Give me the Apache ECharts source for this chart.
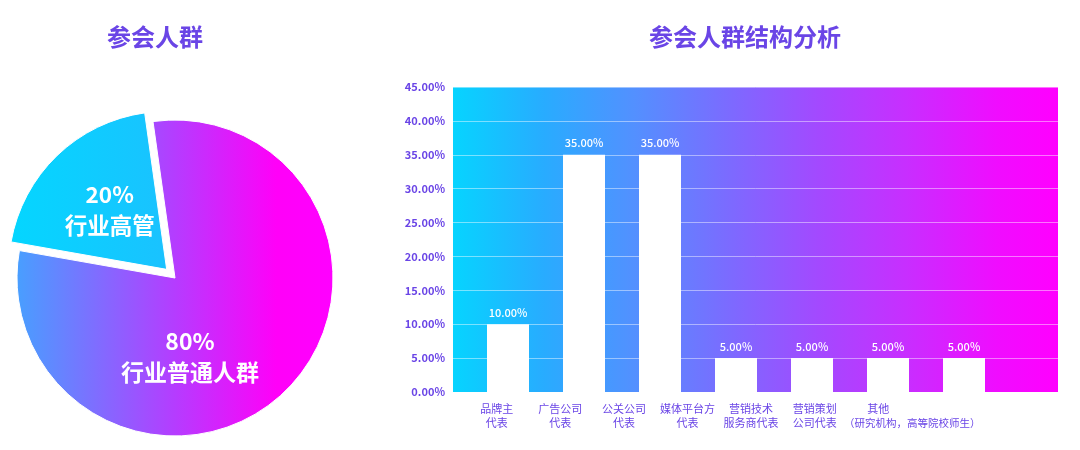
<!DOCTYPE html>
<html><head><meta charset="utf-8">
<script src="https://cdn.jsdelivr.net/npm/echarts@6/dist/echarts.min.js"></script>
<style>html,body{margin:0;padding:0;background:#fff}#c{width:1080px;height:450px}</style>
</head><body><div id="c"></div>
<script>
var pieNames = ['行业普通人群', '行业高管'];
var pieValues = [80, 20];
var pieLabels = ['80%', '20%'];
var barCategories = ['品牌主\n代表', '广告公司\n代表', '公关公司\n代表', '媒体平台方\n代表', '营销技术\n服务商代表', '营销策划\n公司代表', '其他\n（研究机构，高等院校师生）'];
var barValues = [0.10, 0.35, 0.35, 0.05, 0.05, 0.05, 0.05];
var yMin = 0, yMax = 0.45, yStep = 0.05;

var FONT = 'Noto Sans CJK SC';
var PURPLE = '#6a45e6';
var chart = echarts.init(document.getElementById('c'));
var G = echarts.graphic.LinearGradient;
var bgGrad = new G(0, 0, 1, 0, [
  {offset: 0, color: '#06d4ff'}, {offset: 0.15, color: '#28acff'},
  {offset: 0.3, color: '#5390ff'}, {offset: 0.45, color: '#7a6cff'},
  {offset: 0.6, color: '#a24aff'}, {offset: 0.75, color: '#c82eff'},
  {offset: 0.9, color: '#f00cff'}, {offset: 1, color: '#ff00ff'}]);
var pinkGrad = new G(0, 0, 1, 0, [
  {offset: 0, color: '#489fff'}, {offset: 0.5, color: '#b53cff'},
  {offset: 0.82, color: '#ff00f8'}, {offset: 1, color: '#ff00ff'}]);
var cyanGrad = new G(0, 0, 1, 0, [
  {offset: 0, color: '#04d6ff'}, {offset: 1, color: '#1ac2ff'}]);

var pieColors = [pinkGrad, cyanGrad];
var pieOffsets = [[-42, 20], [-23, -6]];
var pieSizes = [23, 22.5];
var pieData = pieNames.map(function (n, i) {
  return {
    name: n, value: pieValues[i], selected: i === 1,
    itemStyle: {color: pieColors[i]},
    label: {formatter: pieLabels[i] + '\n' + n, offset: pieOffsets[i], fontSize: pieSizes[i]}
  };
});

function catLabel(v) {
  var parts = v.split('\n');
  if (parts[1] && parts[1].length > 8) {
    return '{a|' + parts[0] + '}\n{b|' + parts[1] + '}';
  }
  return v;
}

var option = {
  animation: false,
  title: [
    {text: '参会人群', left: 150, top: 20, textAlign: 'center',
     textStyle: {fontFamily: FONT, fontSize: 24, fontWeight: 'bold', color: PURPLE}},
    {text: '参会人群结构分析', left: 740, top: 20, textAlign: 'center',
     textStyle: {fontFamily: FONT, fontSize: 24, fontWeight: 'bold', color: PURPLE}}
  ],
  grid: [
    {left: 453, right: 22, top: 87, bottom: 58, show: true, backgroundColor: bgGrad, borderWidth: 0},
    {left: 470, width: 532, top: 87, bottom: 58},
    {left: 465, width: 445, top: 87, bottom: 58}
  ],
  xAxis: [
    {gridIndex: 0, type: 'category', data: [''], show: false},
    {gridIndex: 1, type: 'category', data: barCategories, show: false},
    {gridIndex: 2, type: 'category', data: barCategories,
     axisLine: {show: false}, axisTick: {show: false},
     axisLabel: {interval: 0, margin: 10, color: PURPLE, fontFamily: FONT, fontSize: 11, lineHeight: 14,
       formatter: catLabel,
       rich: {a: {color: PURPLE, fontFamily: FONT, fontSize: 11, lineHeight: 14},
              b: {color: PURPLE, fontFamily: FONT, fontSize: 10.5, lineHeight: 14, padding: [0, 0, 0, 68]}}}}
  ],
  yAxis: [
    {gridIndex: 0, type: 'value', min: yMin, max: yMax, interval: yStep,
     axisLine: {show: false}, axisTick: {show: false},
     splitLine: {lineStyle: {color: 'rgba(255,255,255,0.45)', width: 1}},
     axisLabel: {margin: 8, color: PURPLE, fontFamily: FONT, fontSize: 11, fontWeight: 'bold',
       formatter: function (v) { return (v * 100).toFixed(2) + '%'; }}},
    {gridIndex: 1, type: 'value', min: yMin, max: yMax, show: false, splitLine: {show: false}},
    {gridIndex: 2, type: 'value', min: yMin, max: yMax, show: false, splitLine: {show: false}}
  ],
  series: [
    {type: 'bar', xAxisIndex: 1, yAxisIndex: 1, data: barValues, barWidth: 42,
     itemStyle: {color: '#ffffff'},
     label: {show: true, position: 'top', distance: 6, color: '#ffffff', fontFamily: FONT, fontSize: 11,
       fontWeight: 500,
       formatter: function (p) { return (p.value * 100).toFixed(2) + '%'; }}},
    {type: 'pie', center: [175, 278], radius: 158, startAngle: 98, clockwise: true,
     selectedMode: 'single', selectedOffset: 12, avoidLabelOverlap: false,
     data: pieData,
     itemStyle: {borderColor: '#ffffff', borderWidth: 1},
     label: {show: true, position: 'inside', color: '#ffffff', fontFamily: FONT, fontSize: 22,
       fontWeight: 'bold', lineHeight: 31, align: 'center', overflow: 'none', width: 220},
     labelLine: {show: false},
     emphasis: {disabled: true}}
  ]
};
chart.setOption(option);
</script></body></html>
